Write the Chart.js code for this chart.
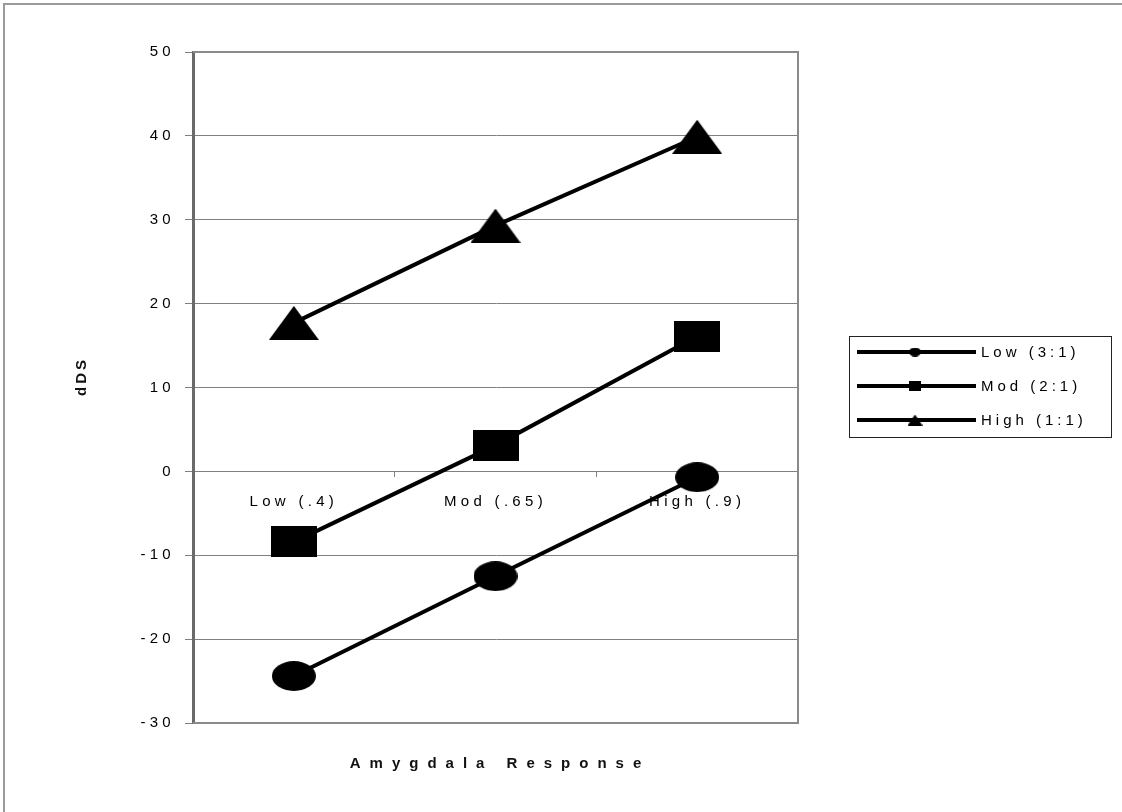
<!DOCTYPE html>
<html><head><meta charset="utf-8">
<script src="https://cdn.jsdelivr.net/npm/chart.js@4/dist/chart.umd.min.js"></script>
<style>html,body{margin:0;padding:0;background:#fff;}#wrap{width:1122px;height:812px;position:relative;}</style>
</head><body><div id="wrap"><canvas id="c" width="1122" height="812"></canvas></div>
<script>
const categories = ['Low (.4)', 'Mod (.65)', 'High (.9)'];
const seriesNames = ['Low (3:1)', 'Mod (2:1)', 'High (1:1)'];
const lowValues = [-24.4, -12.5, -0.7];
const modValues = [-8.4, 3.1, 16.1];
const highValues = [17.7, 29.3, 39.9];
const yTicks = [-30, -20, -10, 0, 10, 20, 30, 40, 50];
const yTitle = 'dDS';
const xTitle = 'Amygdala Response';

const FONT = '"Liberation Sans", Arial, sans-serif';

function makeMarker(shape, w, h) {
  const c = document.createElement('canvas');
  c.width = w; c.height = h;
  const g = c.getContext('2d');
  g.fillStyle = '#000';
  g.beginPath();
  if (shape === 'ellipse') g.ellipse(w / 2, h / 2, w / 2, h / 2, 0, 0, Math.PI * 2);
  else if (shape === 'rect') g.rect(0, 0, w, h);
  else { g.moveTo(w / 2, 0); g.lineTo(w, h); g.lineTo(0, h); g.closePath(); }
  g.fill();
  return c;
}
const bigMarkers = [makeMarker('ellipse', 44, 30), makeMarker('rect', 46, 31), makeMarker('triangle', 50, 34)];
const smallMarkers = [makeMarker('ellipse', 12, 9), makeMarker('rect', 12, 10), makeMarker('triangle', 15, 11)];
const seriesValues = [lowValues, modValues, highValues];

const TICK_SPACING = '4.3px';

const spacingPlugin = {
  id: 'spacing',
  beforeLayout(chart) { chart.ctx.letterSpacing = TICK_SPACING; },
  beforeDraw(chart) {
    const ctx = chart.ctx;
    ctx.letterSpacing = TICK_SPACING;
    ctx.save();
    ctx.strokeStyle = '#9a9a9a';
    ctx.lineWidth = 2;
    ctx.strokeRect(4, 4, 1300, 1300);
    ctx.restore();
  },
  afterDatasetsDraw(chart) {
    const ctx = chart.ctx;
    const a = chart.chartArea;
    ctx.save();
    ctx.strokeStyle = '#8a8a8a';
    ctx.lineWidth = 2;
    ctx.beginPath();
    ctx.moveTo(a.left, a.top); ctx.lineTo(a.right, a.top); ctx.lineTo(a.right, a.bottom); ctx.lineTo(a.left, a.bottom);
    ctx.stroke();
    ctx.restore();
  },
  afterDraw(chart) {
    const ctx = chart.ctx;
    const a = chart.chartArea;
    ctx.save();
    // x title
    ctx.fillStyle = '#111';
    ctx.font = 'bold 15px ' + FONT;
    ctx.letterSpacing = '9px';
    ctx.textAlign = 'center';
    ctx.textBaseline = 'middle';
    ctx.fillText(xTitle, (a.left + a.right) / 2 + 4.5, 764);
    // y title
    ctx.save();
    ctx.translate(82, 378);
    ctx.rotate(-Math.PI / 2);
    ctx.letterSpacing = '3px';
    ctx.font = 'bold 15px ' + FONT;
    ctx.fillText(yTitle, 1.5, 0);
    ctx.restore();
    // legend
    const bx = 849, by = 336, bw = 262, bh = 101;
    ctx.strokeStyle = '#222';
    ctx.lineWidth = 1;
    ctx.strokeRect(bx + 0.5, by + 0.5, bw, bh);
    const rows = [352, 386, 420];
    ctx.letterSpacing = '4px';
    ctx.font = '15px ' + FONT;
    ctx.textAlign = 'left';
    for (let i = 0; i < seriesNames.length; i++) {
      const y = rows[i];
      ctx.strokeStyle = '#000';
      ctx.lineWidth = 4;
      ctx.beginPath(); ctx.moveTo(857, y); ctx.lineTo(976, y); ctx.stroke();
      const m = smallMarkers[i];
      ctx.drawImage(m, 915 - m.width / 2, y - m.height / 2);
      ctx.fillStyle = '#000';
      ctx.fillText(seriesNames[i], 981, y + 1);
    }
    ctx.restore();
  }
};

new Chart(document.getElementById('c'), {
  type: 'line',
  data: {
    labels: categories,
    datasets: seriesNames.map((name, i) => ({
      label: name,
      data: seriesValues[i],
      borderColor: '#000',
      backgroundColor: '#000',
      borderWidth: 4,
      pointStyle: bigMarkers[i],
      pointRadius: 20,
      tension: 0,
      fill: false,
      clip: false
    }))
  },
  options: {
    responsive: false,
    animation: false,
    events: [],
    layout: { padding: { left: 0, top: 52, right: 324, bottom: 89 } },
    plugins: { legend: { display: false }, tooltip: { enabled: false }, title: { display: false } },
    scales: {
      x: {
        type: 'category',
        position: { y: 0 },
        offset: true,
        grid: { offset: true, drawOnChartArea: false, drawTicks: true, tickLength: 5, color: '#808080' },
        border: { display: true, color: '#808080', width: 1 },
        ticks: { padding: 16, color: '#000', font: { family: FONT, size: 15 }, maxRotation: 0 }
      },
      y: {
        type: 'linear',
        min: -30, max: 50,
        afterBuildTicks(scale) { scale.ticks = yTicks.map(v => ({ value: v })); },
        afterFit(scale) { scale.width = 193; },
        grid: { color: '#808080', lineWidth: 1, drawTicks: true, tickLength: 8 },
        border: { display: true, color: '#6a6a6a', width: 3 },
        ticks: { padding: 10, color: '#000', font: { family: FONT, size: 15 } }
      }
    }
  },
  plugins: [spacingPlugin]
});
</script>
</body></html>
